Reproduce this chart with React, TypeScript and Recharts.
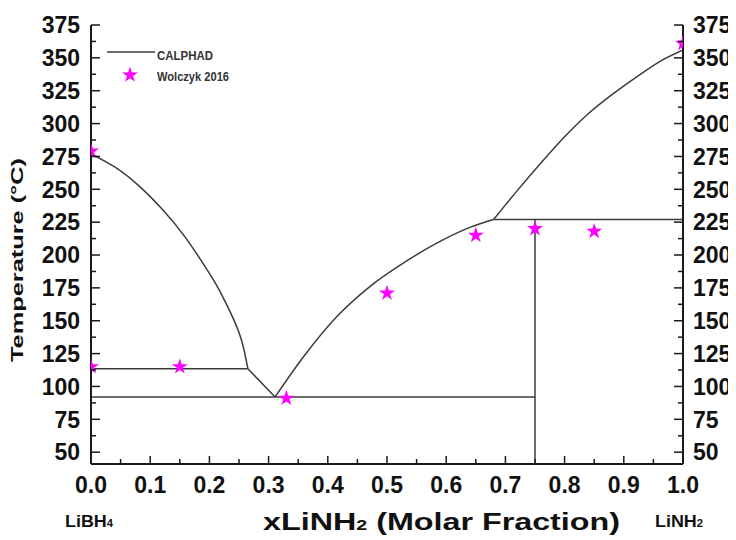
import React from 'react';
import { ComposedChart, Line, Scatter, XAxis, YAxis, ZAxis, Legend, Symbols } from 'recharts';

// ---------- data ----------
const X_MAJOR = [0, 0.1, 0.2, 0.3, 0.4, 0.5, 0.6, 0.7, 0.8, 0.9, 1.0];
const X_MINOR = [0.05, 0.15, 0.25, 0.35, 0.45, 0.55, 0.65, 0.75, 0.85, 0.95];
const Y_MAJOR = [50, 75, 100, 125, 150, 175, 200, 225, 250, 275, 300, 325, 350, 375];
const Y_MINOR = [62.5, 87.5, 112.5, 137.5, 162.5, 187.5, 212.5, 237.5, 262.5, 287.5, 312.5, 337.5, 362.5];
const X_DOMAIN = [0, 1];
const Y_DOMAIN = [41, 375];

// CALPHAD phase boundaries
const leftLiquidus = [
  { x: 0, y: 277 }, { x: 0.04, y: 267 }, { x: 0.08, y: 253 }, { x: 0.12, y: 235 },
  { x: 0.16, y: 213 }, { x: 0.2, y: 186 }, { x: 0.22, y: 170.5 }, { x: 0.24, y: 152 },
  { x: 0.255, y: 134 }, { x: 0.265, y: 113.5 },
];
const leftLower = [{ x: 0.265, y: 113.5 }, { x: 0.311, y: 92 }];
const lowTransition = [{ x: 0, y: 113.5 }, { x: 0.265, y: 113.5 }];
const eutectic = [{ x: 0, y: 92 }, { x: 0.75, y: 92 }];
const rightLiquidus = [
  { x: 0.311, y: 92 }, { x: 0.358, y: 122 }, { x: 0.415, y: 153 }, { x: 0.471, y: 176 },
  { x: 0.528, y: 194 }, { x: 0.584, y: 209 }, { x: 0.64, y: 221 }, { x: 0.68, y: 227 },
];
const upperLiquidus = [
  { x: 0.68, y: 227 }, { x: 0.72, y: 249 }, { x: 0.76, y: 270 }, { x: 0.8, y: 290 },
  { x: 0.84, y: 307.5 }, { x: 0.88, y: 322 }, { x: 0.92, y: 335 }, { x: 0.96, y: 347 },
  { x: 1, y: 356 },
];
const peritectic = [{ x: 0.68, y: 227 }, { x: 1, y: 227 }];
const compoundLine = [{ x: 0.75, y: 41 }, { x: 0.75, y: 227 }];

// Wolczyk 2016 experimental points
const wolczyk = [
  { x: 0, y: 279 }, { x: 0, y: 115 }, { x: 0.15, y: 115 }, { x: 0.33, y: 91 },
  { x: 0.5, y: 171 }, { x: 0.65, y: 215 }, { x: 0.75, y: 220 }, { x: 0.85, y: 218 },
  { x: 1, y: 361 },
];

const X_TICKS = [...X_MAJOR, ...X_MINOR].sort((a, b) => a - b);
const Y_TICKS = [...Y_MAJOR, ...Y_MINOR].sort((a, b) => a - b);

// ---------- styles ----------
const AXIS = '#1a1a1a';
const CURVE = '#3c3c3c';
const MAGENTA = '#ff00ff';
const FONT = '"Liberation Sans", Arial, sans-serif';
const tickFont: React.CSSProperties = { fontFamily: FONT, fontWeight: 700, fontSize: 23, fill: '#111' };

const isMajor = (list: number[], v: number) => list.some((m) => Math.abs(m - v) < 1e-9);

const BottomTick = (p: any) => {
  const { x, y, payload } = p;
  const major = isMajor(X_MAJOR, payload.value);
  return (
    <g>
      <line x1={x} x2={x} y1={y} y2={y - (major ? 8 : 5)} stroke={AXIS} strokeWidth={1.5} />
      {major && (
        <text x={x} y={y + 29} textAnchor="middle" style={tickFont}>
          {Number(payload.value).toFixed(1)}
        </text>
      )}
    </g>
  );
};

const TopTick = (p: any) => {
  const { x, y, payload } = p;
  const major = isMajor(X_MAJOR, payload.value);
  return <line x1={x} x2={x} y1={y} y2={y + (major ? 8 : 5)} stroke={AXIS} strokeWidth={1.5} />;
};

const LeftTick = (p: any) => {
  const { x, y, payload } = p;
  const major = isMajor(Y_MAJOR, payload.value);
  return (
    <g>
      <line x1={x} x2={x + (major ? 9 : 5)} y1={y} y2={y} stroke={AXIS} strokeWidth={1.5} />
      {major && (
        <text x={x - 11} y={y} dy="0.36em" textAnchor="end" style={tickFont}>
          {payload.value}
        </text>
      )}
    </g>
  );
};

const RightTick = (p: any) => {
  const { x, y, payload } = p;
  const major = isMajor(Y_MAJOR, payload.value);
  return (
    <g>
      <line x1={x} x2={x - (major ? 9 : 5)} y1={y} y2={y} stroke={AXIS} strokeWidth={1.5} />
      {major && (
        <text x={x + 10} y={y} dy="0.36em" textAnchor="start" style={tickFont}>
          {payload.value}
        </text>
      )}
    </g>
  );
};

const XTitle = () => (
  <g style={{ fontFamily: FONT, fontWeight: 700, fill: '#111' }}>
    <text x={255} y={522} fontSize={23} textLength={357} lengthAdjust="spacingAndGlyphs">
      xLiNH<tspan fontSize={14}>2</tspan> (Molar Fraction)
    </text>
    <text x={57} y={519} fontSize={16} textLength={48} lengthAdjust="spacingAndGlyphs">
      LiBH<tspan fontSize={10}>4</tspan>
    </text>
    <text x={647} y={519} fontSize={16} textLength={48} lengthAdjust="spacingAndGlyphs">
      LiNH<tspan fontSize={10}>2</tspan>
    </text>
  </g>
);

const YTitle = () => (
  <text
    x={15}
    y={252}
    transform="rotate(-90, 15, 252)"
    textAnchor="middle"
    fontSize={17}
    textLength={204}
    lengthAdjust="spacingAndGlyphs"
    style={{ fontFamily: FONT, fontWeight: 700, fill: '#111' }}
  >
    Temperature (°C)
  </text>
);

const LegendBox = () => (
  <svg width={170} height={54}>
    <line x1={4} x2={52} y1={14} y2={14} stroke={CURVE} strokeWidth={1.5} />
    <text x={54} y={22} fontSize={12} textLength={56} lengthAdjust="spacingAndGlyphs"
      style={{ fontFamily: FONT, fontWeight: 700, fill: '#333' }}>CALPHAD</text>
    <Symbols cx={27} cy={37} type="star" size={80} fill={MAGENTA} />
    <text x={54} y={43} fontSize={12} textLength={72} lengthAdjust="spacingAndGlyphs"
      style={{ fontFamily: FONT, fontWeight: 700, fill: '#333' }}>Wolczyk 2016</text>
  </svg>
);

const lineProps = {
  xAxisId: 'b',
  yAxisId: 'l',
  dataKey: 'y',
  stroke: CURVE,
  strokeWidth: 1.5,
  dot: false,
  activeDot: false,
  isAnimationActive: false,
  legendType: 'none' as const,
};

export default function App() {
  return (
    <ComposedChart width={728} height={532} margin={{ top: 17, right: 0, bottom: 0, left: 0 }}>
      <XAxis
        xAxisId="b"
        type="number"
        dataKey="x"
        orientation="bottom"
        domain={X_DOMAIN}
        ticks={X_TICKS}
        interval={0}
        height={76}
        tickSize={0}
        tickMargin={0}
        tick={<BottomTick />}
        axisLine={{ stroke: AXIS, strokeWidth: 2 }}
        label={<XTitle />}
        allowDataOverflow
      />
      <XAxis
        xAxisId="t"
        type="number"
        dataKey="x"
        orientation="top"
        domain={X_DOMAIN}
        ticks={X_TICKS}
        interval={0}
        height={0}
        tickSize={0}
        tickMargin={0}
        tick={<TopTick />}
        axisLine={{ stroke: AXIS, strokeWidth: 2 }}
        allowDataOverflow
      />
      <YAxis
        yAxisId="l"
        type="number"
        orientation="left"
        domain={Y_DOMAIN}
        ticks={Y_TICKS}
        interval={0}
        width={83}
        tickSize={0}
        tickMargin={0}
        tick={<LeftTick />}
        axisLine={{ stroke: AXIS, strokeWidth: 2 }}
        label={<YTitle />}
        allowDataOverflow
      />
      <YAxis
        yAxisId="r"
        type="number"
        orientation="right"
        domain={Y_DOMAIN}
        ticks={Y_TICKS}
        interval={0}
        width={53}
        tickSize={0}
        tickMargin={0}
        tick={<RightTick />}
        axisLine={{ stroke: AXIS, strokeWidth: 2 }}
        allowDataOverflow
      />
      <ZAxis type="number" range={[80, 80]} />
      <Legend
        layout="horizontal"
        verticalAlign="middle"
        align="center"
        content={() => <LegendBox />}
        wrapperStyle={{ left: 95, top: 30, width: 170, height: 54 }}
      />
      <Line {...lineProps} data={leftLiquidus} type="natural" />
      <Line {...lineProps} data={leftLower} type="linear" />
      <Line {...lineProps} data={lowTransition} type="linear" />
      <Line {...lineProps} data={eutectic} type="linear" />
      <Line {...lineProps} data={rightLiquidus} type="monotone" />
      <Line {...lineProps} data={upperLiquidus} type="monotone" />
      <Line {...lineProps} data={peritectic} type="linear" />
      <Line {...lineProps} data={compoundLine} type="linear" />
      <Scatter
        xAxisId="b"
        yAxisId="l"
        data={wolczyk}
        dataKey="y"
        fill={MAGENTA}
        shape="star"
        isAnimationActive={false}
      />
    </ComposedChart>
  );
}
